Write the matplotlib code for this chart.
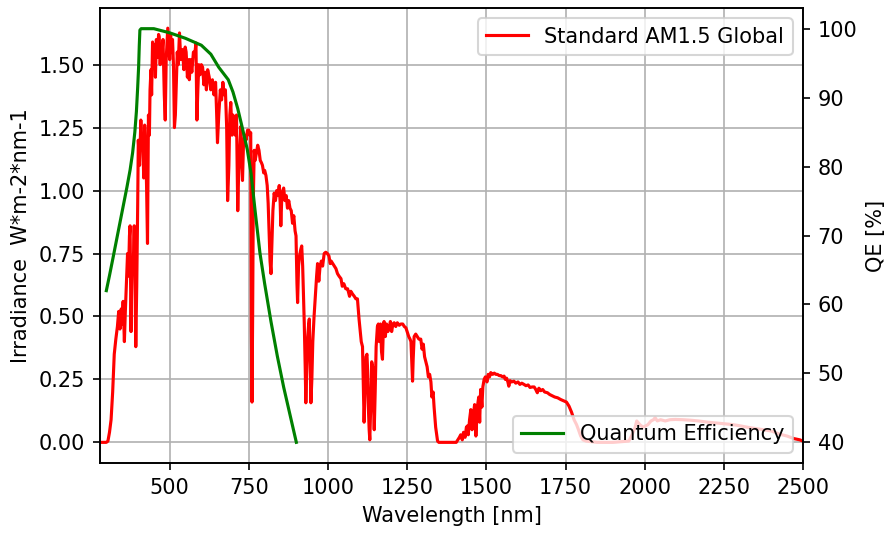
import numpy as np
import matplotlib
matplotlib.use('Agg')
import matplotlib.pyplot as plt

# AM1.5 global spectrum (nm, W m-2 nm-1)
wl = [280, 300, 305, 310, 315, 320, 325, 330, 335, 339, 343, 347, 350, 353, 357, 360, 363, 367, 370, 373,
      375, 378, 381, 385, 388, 391, 393, 396, 399, 401, 405, 409, 412, 415, 418, 421, 424, 427, 430, 433,
      436, 438, 441, 443, 446, 449, 452, 455, 458, 462, 465, 467, 470, 473, 476, 479, 483, 486, 489, 492,
      494, 497, 500, 503, 506, 509, 512, 515, 518, 521, 524, 527, 531, 535, 540, 545, 549, 552, 556, 560,
      562, 566, 570, 575, 580, 583, 586, 589, 592, 596, 600, 604, 608, 612, 616, 620, 625, 630, 635, 640,
      645, 648, 651, 655, 660, 664, 668, 672, 676, 680, 683, 687, 690, 693, 697, 700, 703, 707, 711, 715,
      718, 721, 725, 728, 730, 733, 737, 741, 746, 750, 753, 756, 758, 760, 762, 764, 767, 770, 774, 778,
      782, 786, 790, 793, 797, 800, 804, 808, 811, 814, 817, 820, 823, 826, 830, 834, 838, 842, 846, 849,
      851, 854, 857, 860, 864, 868, 872, 876, 880, 884, 888, 892, 896, 899, 902, 904, 907, 910, 914, 917,
      920, 923, 925, 928, 930, 933, 936, 939, 941, 944, 946, 949, 952, 956, 960, 964, 967, 971, 975, 979,
      983, 988, 993, 998, 1003, 1007, 1010, 1015, 1020, 1025, 1030, 1035, 1041, 1045, 1050, 1056, 1062, 1068, 1072, 1077,
      1083, 1088, 1093, 1096, 1098, 1102, 1105, 1109, 1112, 1114, 1117, 1120, 1123, 1125, 1128, 1130, 1132, 1135, 1138, 1141,
      1143, 1146, 1149, 1152, 1156, 1159, 1162, 1166, 1169, 1172, 1175, 1177, 1181, 1185, 1189, 1193, 1197, 1201, 1205, 1209,
      1214, 1219, 1225, 1230, 1236, 1241, 1246, 1250, 1255, 1259, 1262, 1265, 1267, 1269, 1272, 1277, 1282, 1287, 1293, 1297,
      1301, 1305, 1309, 1313, 1317, 1321, 1325, 1328, 1332, 1335, 1340, 1346, 1350, 1400, 1405, 1410, 1415, 1419, 1424, 1428,
      1433, 1437, 1440, 1443, 1447, 1451, 1455, 1459, 1463, 1467, 1470, 1472, 1476, 1479, 1482, 1486, 1489, 1493, 1497, 1502,
      1506, 1510, 1514, 1520, 1525, 1530, 1535, 1541, 1546, 1551, 1556, 1560, 1564, 1568, 1571, 1575, 1580, 1587, 1593, 1600,
      1606, 1612, 1619, 1625, 1632, 1638, 1645, 1651, 1656, 1661, 1666, 1672, 1678, 1684, 1693, 1700, 1708, 1716, 1725, 1735,
      1746, 1753, 1761, 1769, 1777, 1785, 1791, 1798, 1805, 1815, 1850, 1900, 1950, 1960, 1970, 1975, 1985, 1995, 2010, 2020,
      2028, 2033, 2040, 2050, 2065, 2080, 2097, 2120, 2145, 2170, 2200, 2225, 2250, 2275, 2300, 2325, 2350, 2376, 2400, 2428,
      2450, 2471, 2490, 2500]
irr = [0, 0, 0.005, 0.04, 0.09, 0.2, 0.35, 0.41, 0.46, 0.52, 0.45, 0.53, 0.47, 0.56, 0.40, 0.52, 0.62, 0.75, 0.66, 0.82,
       0.86, 0.44, 0.72, 0.70, 0.86, 0.60, 0.38, 0.62, 0.94, 1.20, 1.10, 1.28, 1.18, 1.22, 1.05, 1.26, 1.18, 1.02, 0.79, 1.30,
       1.22, 1.40, 1.48, 1.38, 1.59, 1.52, 1.58, 1.45, 1.60, 1.53, 1.62, 1.61, 1.50, 1.58, 1.55, 1.60, 1.38, 1.28, 1.52, 1.60,
       1.645, 1.58, 1.52, 1.62, 1.55, 1.60, 1.50, 1.25, 1.30, 1.42, 1.55, 1.50, 1.626, 1.52, 1.56, 1.48, 1.57, 1.55, 1.45, 1.52,
       1.44, 1.52, 1.47, 1.55, 1.55, 1.586, 1.28, 1.40, 1.50, 1.46, 1.50, 1.49, 1.42, 1.47, 1.40, 1.48, 1.45, 1.40, 1.44, 1.38,
       1.43, 1.32, 1.19, 1.30, 1.40, 1.36, 1.43, 1.38, 1.40, 1.25, 0.96, 1.10, 1.30, 1.35, 1.22, 1.30, 1.28, 1.22, 1.30, 0.92,
       1.08, 1.15, 1.255, 1.10, 1.04, 1.18, 1.22, 1.20, 1.24, 1.24, 1.22, 1.23, 0.45, 0.16, 0.50, 0.95, 1.16, 1.12, 1.15, 1.18,
       1.16, 1.12, 1.11, 1.10, 1.07, 1.08, 1.06, 1.02, 0.95, 0.83, 0.72, 0.67, 0.80, 0.92, 0.99, 0.96, 1.00, 0.98, 1.02, 0.95,
       0.86, 0.97, 1.00, 1.01, 0.96, 0.98, 0.93, 0.96, 0.93, 0.92, 0.87, 0.90, 0.84, 0.82, 0.63, 0.555, 0.70, 0.74, 0.766, 0.78,
       0.70, 0.56, 0.475, 0.30, 0.157, 0.30, 0.42, 0.47, 0.49, 0.30, 0.157, 0.25, 0.40, 0.50, 0.58, 0.66, 0.71, 0.64, 0.70, 0.72,
       0.70, 0.75, 0.755, 0.75, 0.74, 0.71, 0.72, 0.71, 0.70, 0.69, 0.67, 0.66, 0.65, 0.62, 0.63, 0.61, 0.61, 0.58, 0.60, 0.59,
       0.58, 0.57, 0.57, 0.52, 0.49, 0.44, 0.40, 0.38, 0.20, 0.08, 0.20, 0.34, 0.35, 0.29, 0.12, 0.05, 0.01, 0.15, 0.32, 0.30,
       0.18, 0.05, 0.20, 0.38, 0.46, 0.47, 0.40, 0.47, 0.36, 0.33, 0.46, 0.48, 0.42, 0.47, 0.44, 0.45, 0.48, 0.44, 0.47, 0.475,
       0.46, 0.475, 0.465, 0.47, 0.47, 0.46, 0.455, 0.44, 0.42, 0.41, 0.40, 0.30, 0.243, 0.33, 0.42, 0.43, 0.42, 0.41, 0.41, 0.37,
       0.39, 0.34, 0.32, 0.30, 0.26, 0.27, 0.24, 0.18, 0.20, 0.14, 0.06, 0.005, 0, 0, 0.0, 0.01, 0.02, 0.03, 0.01, 0.04,
       0.02, 0.06, 0.065, 0.03, 0.09, 0.13, 0.05, 0.11, 0.15, 0.025, 0.10, 0.144, 0.18, 0.08, 0.21, 0.14, 0.22, 0.25, 0.26, 0.24,
       0.27, 0.26, 0.277, 0.27, 0.275, 0.27, 0.27, 0.265, 0.265, 0.26, 0.263, 0.25, 0.255, 0.24, 0.223, 0.245, 0.24, 0.243, 0.235, 0.24,
       0.23, 0.235, 0.23, 0.225, 0.228, 0.218, 0.22, 0.22, 0.21, 0.197, 0.215, 0.205, 0.21, 0.20, 0.197, 0.19, 0.185, 0.18, 0.177, 0.17,
       0.164, 0.16, 0.144, 0.12, 0.09, 0.07, 0.05, 0.025, 0.01, 0.005, 0.0, 0.0, 0.005, 0.03, 0.06, 0.085, 0.07, 0.06, 0.07, 0.085,
       0.09, 0.098, 0.085, 0.09, 0.085, 0.09, 0.091, 0.09, 0.088, 0.085, 0.08, 0.077, 0.074, 0.071, 0.066, 0.06, 0.055, 0.05, 0.045, 0.032,
       0.025, 0.015, 0.01, 0.005]

# quantum efficiency curve
qe_wl = [300, 310, 320, 335, 350, 365, 375, 383, 390, 395, 399, 402, 404, 406, 410, 450, 500, 550, 600, 630, 655,
         670, 685, 700, 715, 730, 745, 757, 770, 785, 800, 820, 840, 860, 880, 900]
qe = [62, 64.2, 66.5, 70, 73.5, 77, 79.5, 82, 85, 88, 91.5, 94.5, 97.5, 99.8, 100, 100, 99.4, 98.6, 97.6, 96.3, 94.4,
      93.5, 92.6, 90.8, 88.4, 85.5, 82.5, 79, 73.5, 67.5, 63, 57.5, 52.5, 48, 44, 40]

fig = plt.figure(figsize=(887/150, 534/150), dpi=150)
ax1 = fig.add_axes([100/887, 1-463/534, 703/887, 455/534])
ax1.plot(wl, irr, color='red', label='Standard AM1.5 Global')
ax1.set_xlim(280, 2500)
ax1.set_ylim(-0.082, 1.725)
ax1.set_xlabel('Wavelength [nm]')
ax1.set_ylabel('Irradiance  W*m-2*nm-1')
ax1.grid(True)
ax1.legend(loc='upper right')

ax2 = ax1.twinx()
ax2.plot(qe_wl, qe, color='green', label='Quantum Efficiency')
ax2.set_ylim(37, 103)
ax2.set_ylabel('QE [%]')
ax2.legend(loc='lower right')

plt.savefig('out.png', dpi=150)
